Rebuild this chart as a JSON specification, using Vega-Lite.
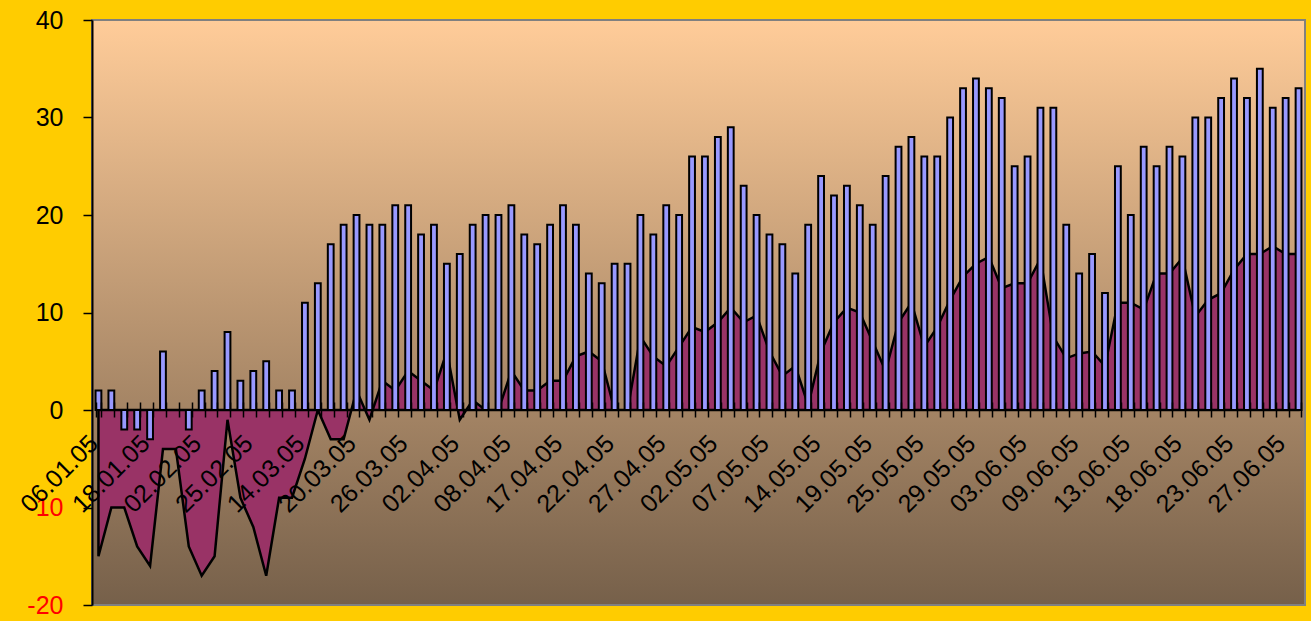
{
  "$schema": "https://vega.github.io/schema/vega-lite/v6.json",
  "width": 1213,
  "height": 585,
  "autosize": {"type": "none"},
  "padding": {"left": 92, "top": 20, "right": 6, "bottom": 16},
  "background": "#FFCC00",
  "config": {
    "font": "Liberation Sans",
    "view": {
      "fill": {"gradient": "linear", "x1": 0, "y1": 0, "x2": 0, "y2": 1, "stops": [{"offset": 0, "color": "#FFCC99"}, {"offset": 1, "color": "#76604A"}]},
      "stroke": "#808080",
      "strokeWidth": 2
    }
  },
  "data": {"values": [
    {"date": "06.01.05", "count": 2, "balance": -15},
    {"date": "09.01.05", "count": 2, "balance": -10},
    {"date": "12.01.05", "count": -2, "balance": -10},
    {"date": "15.01.05", "count": -2, "balance": -14},
    {"date": "18.01.05", "count": -3, "balance": -16},
    {"date": "22.01.05", "count": 6, "balance": -4},
    {"date": "25.01.05", "count": 0, "balance": -4},
    {"date": "29.01.05", "count": -2, "balance": -14},
    {"date": "02.02.05", "count": 2, "balance": -17},
    {"date": "08.02.05", "count": 4, "balance": -15},
    {"date": "14.02.05", "count": 8, "balance": -1},
    {"date": "19.02.05", "count": 3, "balance": -9},
    {"date": "25.02.05", "count": 4, "balance": -12},
    {"date": "03.03.05", "count": 5, "balance": -17},
    {"date": "08.03.05", "count": 2, "balance": -9},
    {"date": "11.03.05", "count": 2, "balance": -9},
    {"date": "14.03.05", "count": 11, "balance": -5},
    {"date": "15.03.05", "count": 13, "balance": 0},
    {"date": "17.03.05", "count": 17, "balance": -3},
    {"date": "18.03.05", "count": 19, "balance": -3},
    {"date": "20.03.05", "count": 20, "balance": 2},
    {"date": "21.03.05", "count": 19, "balance": -1},
    {"date": "23.03.05", "count": 19, "balance": 3},
    {"date": "24.03.05", "count": 21, "balance": 2},
    {"date": "26.03.05", "count": 21, "balance": 4},
    {"date": "28.03.05", "count": 18, "balance": 3},
    {"date": "30.03.05", "count": 19, "balance": 2},
    {"date": "31.03.05", "count": 15, "balance": 6},
    {"date": "02.04.05", "count": 16, "balance": -1},
    {"date": "04.04.05", "count": 19, "balance": 1},
    {"date": "05.04.05", "count": 20, "balance": 0},
    {"date": "06.04.05", "count": 20, "balance": 0},
    {"date": "08.04.05", "count": 21, "balance": 4},
    {"date": "11.04.05", "count": 18, "balance": 2},
    {"date": "13.04.05", "count": 17, "balance": 2},
    {"date": "15.04.05", "count": 19, "balance": 3},
    {"date": "17.04.05", "count": 21, "balance": 3},
    {"date": "18.04.05", "count": 19, "balance": 5.5},
    {"date": "19.04.05", "count": 14, "balance": 6},
    {"date": "20.04.05", "count": 13, "balance": 5},
    {"date": "22.04.05", "count": 15, "balance": 0},
    {"date": "24.04.05", "count": 15, "balance": 0},
    {"date": "25.04.05", "count": 20, "balance": 7.5},
    {"date": "26.04.05", "count": 18, "balance": 5.5},
    {"date": "27.04.05", "count": 21, "balance": 4.5},
    {"date": "28.04.05", "count": 20, "balance": 6.5},
    {"date": "29.04.05", "count": 26, "balance": 8.5},
    {"date": "30.04.05", "count": 26, "balance": 8},
    {"date": "02.05.05", "count": 28, "balance": 9},
    {"date": "03.05.05", "count": 29, "balance": 10.5},
    {"date": "04.05.05", "count": 23, "balance": 9},
    {"date": "05.05.05", "count": 20, "balance": 9.7},
    {"date": "07.05.05", "count": 18, "balance": 6},
    {"date": "09.05.05", "count": 17, "balance": 3.5},
    {"date": "11.05.05", "count": 14, "balance": 4.5},
    {"date": "12.05.05", "count": 19, "balance": 0.5},
    {"date": "14.05.05", "count": 24, "balance": 6},
    {"date": "15.05.05", "count": 22, "balance": 9},
    {"date": "16.05.05", "count": 23, "balance": 10.5},
    {"date": "17.05.05", "count": 21, "balance": 10},
    {"date": "19.05.05", "count": 19, "balance": 7},
    {"date": "21.05.05", "count": 24, "balance": 4},
    {"date": "22.05.05", "count": 27, "balance": 9},
    {"date": "23.05.05", "count": 28, "balance": 11},
    {"date": "25.05.05", "count": 26, "balance": 6.5},
    {"date": "26.05.05", "count": 26, "balance": 8.5},
    {"date": "27.05.05", "count": 30, "balance": 11.3},
    {"date": "28.05.05", "count": 33, "balance": 13.7},
    {"date": "29.05.05", "count": 34, "balance": 15},
    {"date": "30.05.05", "count": 33, "balance": 15.7},
    {"date": "31.05.05", "count": 32, "balance": 12.5},
    {"date": "01.06.05", "count": 25, "balance": 13},
    {"date": "03.06.05", "count": 26, "balance": 13},
    {"date": "05.06.05", "count": 31, "balance": 15.5},
    {"date": "06.06.05", "count": 31, "balance": 7.5},
    {"date": "07.06.05", "count": 19, "balance": 5.3},
    {"date": "09.06.05", "count": 14, "balance": 5.8},
    {"date": "10.06.05", "count": 16, "balance": 6},
    {"date": "11.06.05", "count": 12, "balance": 4.5},
    {"date": "12.06.05", "count": 25, "balance": 11},
    {"date": "13.06.05", "count": 20, "balance": 11},
    {"date": "14.06.05", "count": 27, "balance": 10.3},
    {"date": "15.06.05", "count": 25, "balance": 14},
    {"date": "16.06.05", "count": 27, "balance": 14},
    {"date": "18.06.05", "count": 26, "balance": 15.6},
    {"date": "19.06.05", "count": 30, "balance": 9.6},
    {"date": "20.06.05", "count": 30, "balance": 11.3},
    {"date": "21.06.05", "count": 32, "balance": 12},
    {"date": "23.06.05", "count": 34, "balance": 14.4},
    {"date": "24.06.05", "count": 32, "balance": 16},
    {"date": "25.06.05", "count": 35, "balance": 16},
    {"date": "26.06.05", "count": 31, "balance": 16.8},
    {"date": "27.06.05", "count": 32, "balance": 16},
    {"date": "28.06.05", "count": 33, "balance": 16}
  ]},
  "encoding": {
    "x": {
      "field": "date",
      "type": "ordinal",
      "sort": null,
      "title": null,
      "scale": {"paddingInner": 0.55, "paddingOuter": 0.275},
      "axis": {
        "offset": -203,
        "domain": false,
        "tickBand": "extent",
        "tickSize": 15,
        "tickColor": "#000000",
        "tickWidth": 1.5,
        "labelAngle": -45,
        "labelAlign": "right",
        "labelBaseline": "middle",
        "labelFontSize": 25,
        "labelColor": "#000000",
        "labelPadding": 22,
        "labelOffset": -5,
        "labelOverlap": false,
        "labelBound": false,
        "labelFlush": false,
        "zindex": 1,
        "labelExpr": "indexof(['06.01.05','18.01.05','02.02.05','25.02.05','14.03.05','20.03.05','26.03.05','02.04.05','08.04.05','17.04.05','22.04.05','27.04.05','02.05.05','07.05.05','14.05.05','19.05.05','25.05.05','29.05.05','03.06.05','09.06.05','13.06.05','18.06.05','23.06.05','27.06.05'], datum.value) >= 0 ? datum.label : ''"
      }
    }
  },
  "layer": [
    {
      "mark": {"type": "area", "fill": "#993366", "stroke": "#000000", "strokeWidth": 2.5, "fillOpacity": 1},
      "encoding": {
        "y": {
          "field": "balance",
          "type": "quantitative",
          "title": null,
          "scale": {"domain": [-20, 40], "nice": false},
          "axis": {
            "values": [-20, -10, 0, 10, 20, 30, 40],
            "grid": false,
            "title": null,
            "domainColor": "#000000",
            "domainWidth": 2,
            "tickColor": "#000000",
            "tickWidth": 1.5,
            "tickSize": 9,
            "labelFontSize": 25,
            "labelPadding": 20,
            "labelFlush": false,
            "labelExpr": "toString(datum.value)",
            "labelColor": {"condition": {"test": "datum.value < 0", "value": "#FF0000"}, "value": "#000000"}
          }
        },
        "y2": {"datum": 0}
      }
    },
    {
      "mark": {"type": "bar", "fill": "#9999FF", "stroke": "#000000", "strokeWidth": 2},
      "encoding": {
        "y": {"field": "count", "type": "quantitative", "title": null},
        "y2": {"datum": 0}
      }
    },
    {
      "mark": {"type": "rule", "color": "#000000", "strokeWidth": 3},
      "encoding": {"y": {"datum": 0}}
    }
  ]
}
